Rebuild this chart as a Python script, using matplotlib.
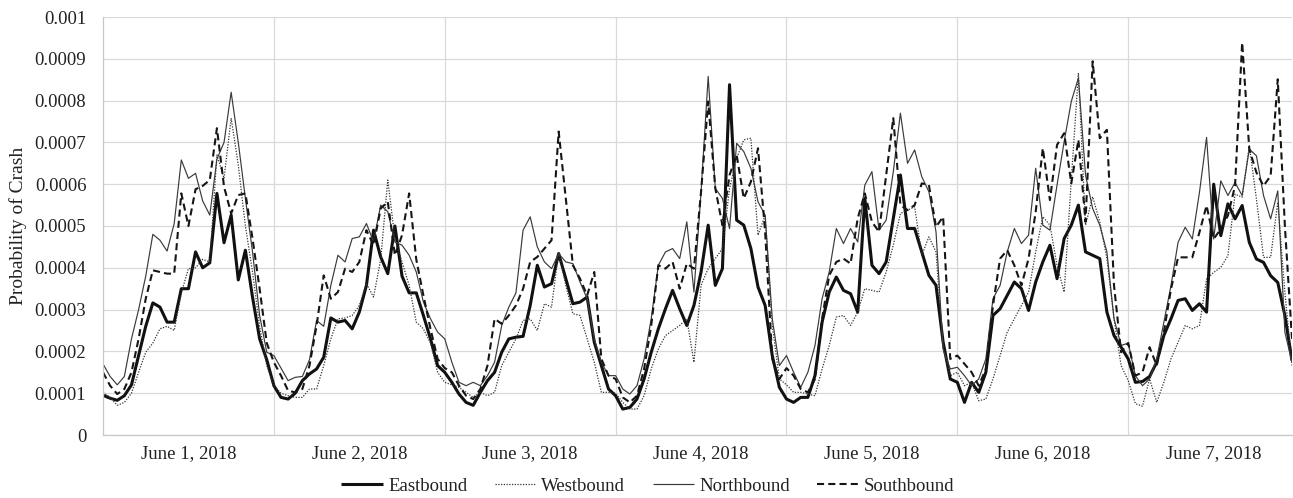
import matplotlib
matplotlib.use("Agg")
import matplotlib.pyplot as plt
import numpy as np

# Values in units of 1e-4 (probability of crash), hourly, 7 days x 24 hours
SCALE = 1e-4

day_labels = ["June 1, 2018", "June 2, 2018", "June 3, 2018", "June 4, 2018",
              "June 5, 2018", "June 6, 2018", "June 7, 2018"]
y_ticks = [0, 0.0001, 0.0002, 0.0003, 0.0004, 0.0005, 0.0006, 0.0007, 0.0008, 0.0009, 0.001]
y_tick_labels = ["0", "0.0001", "0.0002", "0.0003", "0.0004", "0.0005", "0.0006",
                 "0.0007", "0.0008", "0.0009", "0.001"]

eastbound = [
    # June 1
    0.95, 0.88, 0.83, 0.94, 1.2, 1.9, 2.6, 3.16, 3.06, 2.7, 2.7, 3.5,
    3.5, 4.38, 4.0, 4.12, 5.78, 4.6, 5.26, 3.71, 4.42, 3.3, 2.3, 1.8,
    # June 2
    1.18, 0.9, 0.86, 1.0, 1.3, 1.46, 1.58, 1.86, 2.8, 2.7, 2.74, 2.54,
    2.94, 3.58, 4.9, 4.26, 3.86, 5.0, 3.8, 3.4, 3.4, 2.86, 2.3, 1.66,
    # June 3
    1.5, 1.26, 0.98, 0.78, 0.71, 1.02, 1.3, 1.5, 1.98, 2.3, 2.34, 2.36,
    3.1, 4.06, 3.54, 3.62, 4.34, 3.74, 3.14, 3.18, 3.3, 2.22, 1.66, 1.1,
    # June 4
    0.94, 0.62, 0.66, 0.86, 1.34, 1.98, 2.54, 3.02, 3.46, 3.02, 2.62, 3.1,
    3.9, 5.02, 3.58, 3.98, 8.38, 5.14, 5.02, 4.46, 3.54, 3.1, 1.9, 1.14,
    # June 5
    0.86, 0.78, 0.9, 0.9, 1.42, 2.7, 3.42, 3.78, 3.46, 3.38, 2.94, 5.66,
    4.06, 3.86, 4.14, 5.18, 6.22, 4.94, 4.94, 4.38, 3.82, 3.58, 2.22, 1.34,
    # June 6
    1.26, 0.78, 1.26, 1.02, 1.5, 2.86, 3.02, 3.34, 3.66, 3.5, 2.98, 3.66,
    4.14, 4.54, 3.74, 4.7, 5.02, 5.5, 4.38, 4.3, 4.22, 2.94, 2.38, 2.1,
    # June 7
    1.82, 1.26, 1.28, 1.4, 1.74, 2.38, 2.78, 3.22, 3.26, 2.98, 3.14, 2.94,
    6.0, 4.77, 5.53, 5.17, 5.49, 4.61, 4.21, 4.13, 3.81, 3.65, 2.86, 1.78,
]

westbound = [
    1.02, 0.9, 0.71, 0.78, 1.0, 1.5, 1.98, 2.2, 2.54, 2.6, 2.5, 3.4,
    3.98, 4.0, 4.2, 4.14, 6.7, 6.14, 7.58, 6.46, 5.0, 3.9, 2.6, 1.66,
    1.18, 1.0, 0.94, 0.9, 0.9, 1.1, 1.1, 1.66, 2.3, 2.78, 2.8, 2.86,
    3.1, 3.62, 3.3, 4.2, 6.1, 4.7, 4.14, 3.58, 2.7, 2.54, 2.2, 1.5,
    1.26, 1.2, 1.14, 1.02, 0.9, 1.02, 0.94, 1.02, 1.66, 1.98, 2.3, 2.74,
    2.78, 2.5, 3.14, 3.06, 4.38, 3.58, 2.9, 2.86, 2.3, 1.74, 1.02, 1.02,
    1.0, 0.78, 0.62, 0.62, 0.94, 1.58, 2.06, 2.38, 2.5, 2.62, 2.78, 1.74,
    3.58, 3.98, 4.22, 4.46, 5.9, 6.62, 7.06, 7.1, 4.78, 5.26, 2.62, 1.34,
    1.2, 1.02, 1.02, 0.98, 0.94, 1.58, 2.14, 2.82, 2.86, 2.62, 2.94, 3.5,
    3.46, 3.42, 3.9, 4.54, 5.3, 5.38, 5.46, 4.3, 4.74, 4.38, 2.06, 1.42,
    1.5, 1.18, 1.26, 0.82, 0.86, 1.34, 1.9, 2.46, 2.78, 3.1, 3.42, 4.38,
    5.22, 5.02, 4.06, 3.42, 6.1, 8.66, 5.02, 5.7, 5.1, 4.22, 2.78, 1.66,
    1.3, 0.75, 0.69, 1.34, 0.78, 1.26, 1.82, 2.22, 2.62, 2.54, 2.62, 3.73,
    3.89, 4.01, 4.29, 5.76, 5.69, 6.92, 5.65, 4.25, 4.25, 5.57, 3.41, 1.66,
]

northbound = [
    1.7, 1.4, 1.2, 1.4, 2.3, 3.0, 3.8, 4.8, 4.66, 4.4, 5.06, 6.58,
    6.14, 6.26, 5.6, 5.26, 6.6, 7.0, 8.2, 7.0, 5.66, 4.38, 2.86, 1.98,
    1.9, 1.6, 1.3, 1.38, 1.4, 1.8, 2.74, 2.6, 3.58, 4.3, 4.14, 4.7,
    4.74, 5.06, 4.62, 5.5, 5.34, 4.62, 4.54, 4.3, 3.9, 3.18, 2.78, 2.46,
    2.3, 1.74, 1.26, 1.18, 1.26, 1.18, 1.42, 1.74, 2.62, 3.06, 3.4, 4.9,
    5.22, 4.5, 4.14, 3.98, 4.34, 4.14, 4.1, 3.66, 3.26, 2.3, 1.74, 1.42,
    1.42, 1.1, 0.98, 1.18, 1.82, 2.78, 4.06, 4.38, 4.46, 4.22, 5.1, 3.42,
    5.82, 8.58, 5.9, 5.66, 4.94, 6.98, 6.78, 6.38, 5.58, 5.26, 2.78, 1.66,
    1.9, 1.5, 1.14, 1.5, 2.14, 3.26, 3.9, 4.94, 4.58, 4.94, 4.62, 5.98,
    6.3, 4.9, 5.14, 6.3, 7.7, 6.5, 6.82, 6.18, 5.82, 4.86, 2.06, 1.58,
    1.62, 1.42, 1.18, 1.34, 1.82, 3.26, 3.58, 4.38, 4.94, 4.58, 4.78, 6.38,
    5.02, 4.9, 5.98, 7.02, 7.98, 8.54, 6.22, 5.42, 5.02, 4.38, 2.78, 2.14,
    2.2, 1.42, 1.18, 1.34, 1.82, 2.7, 3.57, 4.61, 4.97, 4.69, 5.8, 7.12,
    4.69, 6.08, 5.73, 6.04, 5.73, 6.84, 6.68, 5.73, 5.17, 5.84, 2.46, 1.74,
]

southbound = [
    1.5, 1.18, 0.98, 1.1, 1.5, 2.3, 3.26, 3.94, 3.9, 3.86, 3.86, 5.78,
    5.0, 5.88, 5.96, 6.1, 7.34, 5.94, 5.3, 5.74, 5.78, 4.7, 3.5, 2.2,
    1.74, 1.42, 1.06, 1.02, 1.1, 1.66, 2.62, 3.82, 3.26, 3.42, 3.98, 3.9,
    4.14, 4.9, 4.54, 5.42, 5.58, 4.3, 4.78, 5.78, 4.2, 3.34, 2.54, 1.82,
    1.6, 1.5, 1.18, 0.94, 0.86, 1.1, 1.66, 2.78, 2.66, 2.86, 3.1, 3.5,
    4.14, 4.26, 4.46, 4.66, 7.26, 5.66, 4.06, 3.74, 3.34, 3.9, 1.82, 1.42,
    1.34, 0.9, 0.78, 0.94, 1.58, 2.62, 4.06, 3.98, 4.14, 3.5, 4.1, 3.98,
    5.82, 7.98, 5.9, 5.02, 6.22, 6.7, 5.66, 6.06, 6.86, 4.86, 1.82, 1.34,
    1.6, 1.42, 1.1, 1.02, 1.34, 2.78, 3.82, 4.14, 4.22, 4.1, 5.18, 5.78,
    5.1, 4.86, 6.22, 7.58, 5.5, 5.38, 5.5, 6.02, 5.98, 4.98, 5.22, 1.82,
    1.9, 1.7, 1.5, 1.18, 1.58, 3.1, 4.22, 4.42, 4.06, 3.58, 4.22, 5.34,
    6.86, 5.62, 6.94, 7.22, 6.02, 7.06, 5.1, 8.94, 7.1, 7.3, 3.58, 1.98,
    2.2, 1.42, 1.5, 2.1, 1.66, 2.46, 3.49, 4.25, 4.25, 4.25, 4.85, 5.49,
    4.69, 4.93, 5.25, 5.96, 9.39, 6.84, 6.28, 5.96, 6.2, 8.51, 5.0, 2.3,
]

series = [
    ("Eastbound", eastbound, dict(color="#111111", lw=2.2, linestyle="-")),
    ("Westbound", westbound, dict(color="#333333", lw=0.9, linestyle=(0, (1, 1.2)))),
    ("Northbound", northbound, dict(color="#3a3a3a", lw=0.85, linestyle="-")),
    ("Southbound", southbound, dict(color="#151515", lw=1.5, linestyle=(0, (3.4, 2.0)))),
]

plt.rcParams["font.family"] = ["Liberation Serif", "DejaVu Serif"]

W, H = 1293, 498
fig = plt.figure(figsize=(W / 100, H / 100), dpi=100)
left, right, top, bottom = 103, 1292, 17, 435
ax = fig.add_axes([left / W, 1 - bottom / H, (right - left) / W, (bottom - top) / H])

n = len(eastbound)
x = np.arange(n)
for name, vals, style in series:
    ax.plot(x, np.array(vals) * SCALE, label=name, solid_capstyle="butt",
            dash_capstyle="butt", **style)

ax.set_xlim(0, n - 1)
ax.set_ylim(0, 0.001)
ax.set_yticks(y_ticks)
ax.set_yticklabels(y_tick_labels)
ax.yaxis.grid(True, color="#d9d9d9", lw=0.9)
ax.set_axisbelow(True)
for k in range(1, len(day_labels)):
    ax.axvline(24 * k, color="#d9d9d9", lw=0.9, zorder=0)

ax.set_xticks([24 * k + 12 for k in range(len(day_labels))])
ax.set_xticklabels(day_labels)
ax.tick_params(axis="both", length=0, labelsize=13.5, colors="#222222")
ax.tick_params(axis="y", pad=12)
ax.tick_params(axis="x", pad=7)

for s in ["top", "right"]:
    ax.spines[s].set_visible(False)
for s in ["left", "bottom"]:
    ax.spines[s].set_color("#c8c8c8")
    ax.spines[s].set_linewidth(0.9)

fig.text(18 / W, 1 - 226 / H, "Probability of Crash", rotation=90, ha="center",
         va="center", fontsize=14, color="#222222")

fig.legend(loc="center", bbox_to_anchor=(648 / W, 1 - 486 / H), ncol=4, frameon=False,
           fontsize=13.5, handlelength=2.2, handletextpad=0.3, columnspacing=1.45,
           labelcolor="#222222")

fig.savefig("out.png", dpi=100)
